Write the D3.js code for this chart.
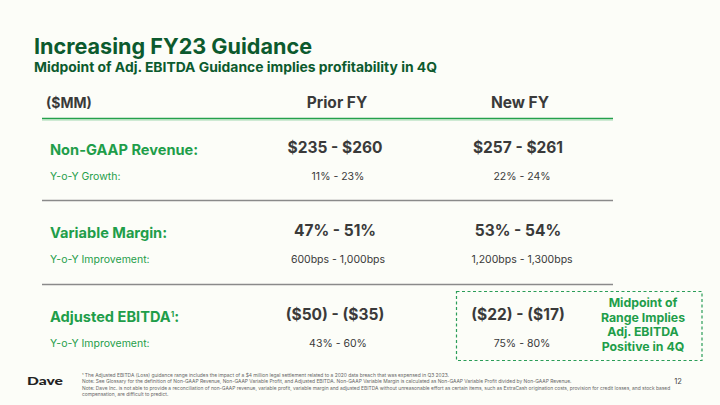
<!DOCTYPE html>
<html><head><meta charset="utf-8">
<script src="https://cdn.jsdelivr.net/npm/d3@7"></script>
<style>
html,body{margin:0;padding:0;background:#fcfdf8;}
svg{display:block;font-family:Inter, "Noto Sans", sans-serif;}
</style></head>
<body>
<script>
const title = "Increasing FY23 Guidance";
const subtitle = "Midpoint of Adj. EBITDA Guidance implies profitability in 4Q";
const unitLabel = "($MM)";
const columns = ["Prior FY", "New FY"];
const metrics = ["Non-GAAP Revenue:", "Variable Margin:", "Adjusted EBITDA"];
const subLabels = ["Y-o-Y Growth:", "Y-o-Y Improvement:", "Y-o-Y Improvement:"];
const priorValues = ["$235 - $260", "47% - 51%", "($50) - ($35)"];
const newValues = ["$257 - $261", "53% - 54%", "($22) - ($17)"];
const priorChange = ["11% - 23%", "600bps - 1,000bps", "43% - 60%"];
const newChange = ["22% - 24%", "1,200bps - 1,300bps", "75% - 80%"];
const calloutLines = ["Midpoint of", "Range Implies", "Adj. EBITDA", "Positive in 4Q"];
const footnotes = [
  "¹ The Adjusted EBITDA (Loss) guidance range includes the impact of a $4 million legal settlement related to a 2020 data breach that was expensed in Q3 2023.",
  "Note: See Glossary for the definition of Non-GAAP Revenue, Non-GAAP Variable Profit, and Adjusted EBITDA. Non-GAAP Variable Margin is calculated as Non-GAAP Variable Profit divided by Non-GAAP Revenue.",
  "Note: Dave Inc. is not able to provide a reconciliation of non-GAAP revenue, variable profit, variable margin and adjusted EBITDA without unreasonable effort as certain items, such as ExtraCash origination costs, provision for credit losses, and stock based",
  "compensation, are difficult to predict."
];
const pageNumber = "12";

const W = 720, H = 405;
const darkGreen = "#0c5a2e", green = "#1f9e4a", text = "#3a3a3a";
const svg = d3.select("body").append("svg").attr("width", W).attr("height", H);
svg.append("rect").attr("width", W).attr("height", H).attr("fill", "#fcfdf8");

svg.append("text").attr("x", 34).attr("y", 54).attr("fill", darkGreen)
  .attr("font-size", 21.6).attr("font-weight", 700).text(title);
svg.append("text").attr("x", 34).attr("y", 72).attr("fill", darkGreen)
  .attr("font-size", 13.3).attr("font-weight", 700)
  .attr("textLength", 403).attr("lengthAdjust", "spacingAndGlyphs").text(subtitle);

// column scale
const x = d3.scalePoint().domain(columns).range([335, 518]);
const rowStep = 84;
const rowTop = i => 120 + i * rowStep;

svg.append("text").attr("x", 46).attr("y", 108).attr("fill", text)
  .attr("font-size", 14).attr("font-weight", 700).text(unitLabel);
svg.selectAll("text.col").data(columns).join("text").attr("class", "col")
  .attr("x", d => x(d) + 2).attr("y", 108).attr("text-anchor", "middle")
  .attr("fill", text).attr("font-size", 15.5).attr("font-weight", 700).text(d => d);

// header line
svg.append("line").attr("x1", 42).attr("x2", 613).attr("y1", 118.5).attr("y2", 118.5)
  .attr("stroke", "#24a14c").attr("stroke-width", 1.6);
svg.append("line").attr("x1", 42).attr("x2", 613).attr("y1", 120).attr("y2", 120)
  .attr("stroke", "#9fd8ae").attr("stroke-width", 1);

// separators
[0, 1].forEach(i => {
  svg.append("line").attr("x1", 42).attr("x2", 613)
    .attr("y1", rowTop(i) + 80.5).attr("y2", rowTop(i) + 80.5)
    .attr("stroke", "#8a8a8a").attr("stroke-width", 1.3);
});

const rows = svg.selectAll("g.row").data(metrics).join("g").attr("class", "row");
const mainY = [153, 236, 320];
const subY = [180, 263, 347];
rows.append("text").attr("x", 50).attr("y", (d, i) => mainY[i] + 2)
  .attr("fill", green).attr("font-size", 14.6).attr("font-weight", 700)
  .each(function(d, i) {
    const t = d3.select(this);
    t.append("tspan").text(d);
    if (i === 2) {
      t.append("tspan").attr("font-size", 8).attr("dy", -5).text("1");
      t.append("tspan").attr("dy", 5).text(":");
    }
  });
rows.append("text").attr("x", 50).attr("y", (d, i) => subY[i])
  .attr("fill", green).attr("font-size", 10.5).attr("font-weight", 400)
  .text((d, i) => subLabels[i]);

rows.append("text").attr("x", x(columns[0])).attr("y", (d, i) => mainY[i])
  .attr("text-anchor", "middle").attr("fill", text).attr("font-size", 15.5).attr("font-weight", 700)
  .text((d, i) => priorValues[i]);
rows.append("text").attr("x", x(columns[1])).attr("y", (d, i) => mainY[i])
  .attr("text-anchor", "middle").attr("fill", text).attr("font-size", 15.5).attr("font-weight", 700)
  .text((d, i) => newValues[i]);
rows.append("text").attr("x", x(columns[0]) + 3).attr("y", (d, i) => subY[i])
  .attr("text-anchor", "middle").attr("fill", text).attr("font-size", 10.5)
  .text((d, i) => priorChange[i]);
rows.append("text").attr("x", x(columns[1]) + 4).attr("y", (d, i) => subY[i])
  .attr("text-anchor", "middle").attr("fill", text).attr("font-size", 10.5)
  .text((d, i) => newChange[i]);

// callout box
svg.append("rect").attr("x", 456.5).attr("y", 291.5).attr("width", 245.5).attr("height", 69)
  .attr("fill", "none").attr("stroke", "#2a9d58").attr("stroke-width", 1.2)
  .attr("stroke-dasharray", "3,2.5");
svg.selectAll("text.call").data(calloutLines).join("text").attr("class", "call")
  .attr("x", 643).attr("y", (d, i) => 307 + i * 14.7).attr("text-anchor", "middle")
  .attr("fill", green).attr("font-size", 12.3).attr("font-weight", 700).text(d => d);

// footer
svg.append("text").attr("x", 27).attr("y", 385).attr("fill", "#222")
  .attr("font-size", 11.5).attr("font-weight", 900).attr("font-family", "Lato, sans-serif")
  .attr("textLength", 36).attr("lengthAdjust", "spacingAndGlyphs")
  .text("Dave");
svg.selectAll("text.fn").data(footnotes).join("text").attr("class", "fn")
  .attr("x", 82).attr("y", (d, i) => 377 + i * 6.3).attr("fill", "#666")
  .attr("font-size", 4.9).text(d => d);
svg.append("text").attr("x", 678).attr("y", 384).attr("text-anchor", "middle")
  .attr("fill", "#444").attr("font-size", 7.5).text(pageNumber);
</script>
</body></html>
